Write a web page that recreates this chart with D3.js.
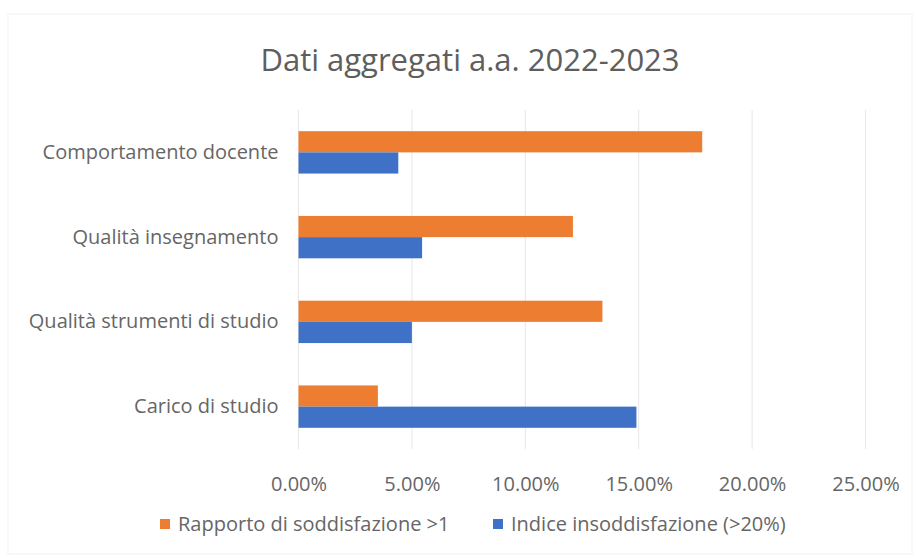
<!DOCTYPE html>
<html>
<head>
<meta charset="utf-8">
<script src="https://cdn.jsdelivr.net/npm/d3@7"></script>
<style>
  body { margin: 0; background: #fff; }
  text { font-family: "Open Sans", sans-serif; fill: #666666; }
</style>
</head>
<body>
<svg id="chart" width="916" height="558"></svg>
<script>
// Data
const categories = ["Comportamento docente", "Qualità insegnamento", "Qualità strumenti di studio", "Carico di studio"];
const seriesNames = ["Rapporto di soddisfazione >1", "Indice insoddisfazione (>20%)"];
const rapporto = [17.8, 12.1, 13.4, 3.5];
const indice = [4.4, 5.45, 5.0, 14.9];
const xTicks = [0, 5, 10, 15, 20, 25];
const colors = ["#ED7D31", "#3F72C6"];

const width = 916, height = 558;
const margin = { top: 110, right: 50, bottom: 109, left: 298.5 };

const svg = d3.select("#chart");

// faint chart frame
svg.append("rect")
  .attr("x", 8).attr("y", 14)
  .attr("width", 904).attr("height", 540)
  .attr("fill", "none")
  .attr("stroke", "#f2f2f2");

// title
svg.append("text")
  .attr("x", 470)
  .attr("y", 71)
  .attr("text-anchor", "middle")
  .style("font-size", "31px")
  .style("fill", "#5e5e5e")
  .text("Dati aggregati a.a. 2022-2023");

const x = d3.scaleLinear()
  .domain([0, 25])
  .range([margin.left, margin.left + 25 * 22.68]);

const y = d3.scaleBand()
  .domain(categories)
  .range([margin.top, height - margin.bottom])
  .paddingInner(0.5)
  .paddingOuter(0.25);

const ySub = d3.scaleBand()
  .domain([0, 1])
  .range([0, y.bandwidth()]);

// gridlines
svg.append("g")
  .selectAll("line")
  .data(xTicks)
  .join("line")
  .attr("x1", (d) => x(d))
  .attr("x2", (d) => x(d))
  .attr("y1", margin.top)
  .attr("y2", height - margin.bottom)
  .attr("stroke", "#e6e6e6")
  .attr("stroke-width", 1);

// bars
const rows = categories.map((c, i) => ({ cat: c, values: [rapporto[i], indice[i]] }));

const groups = svg.append("g")
  .selectAll("g")
  .data(rows)
  .join("g")
  .attr("transform", (d) => `translate(0, ${y(d.cat)})`);

groups.selectAll("rect")
  .data((d) => d.values.map((v, k) => ({ v, k })))
  .join("rect")
  .attr("x", x(0))
  .attr("y", (d) => ySub(d.k))
  .attr("height", ySub.bandwidth())
  .attr("width", (d) => x(d.v) - x(0))
  .attr("fill", (d) => colors[d.k]);

// y axis labels
const yAxis = svg.append("g")
  .attr("transform", `translate(${margin.left - 20}, 0)`)
  .call(d3.axisLeft(y).tickSize(0).tickPadding(0));
yAxis.select(".domain").remove();
yAxis.selectAll("text")
  .style("font-size", "20px")
  .style("font-family", "Open Sans, sans-serif")
  .style("fill", "#666666");

// x axis labels
const xAxis = svg.append("g")
  .attr("transform", `translate(0, ${height - margin.bottom + 28})`)
  .call(d3.axisBottom(x).tickValues(xTicks).tickSize(0).tickPadding(0)
    .tickFormat((d) => d.toFixed(2) + "%"));
xAxis.select(".domain").remove();
xAxis.selectAll("text")
  .style("font-size", "20px")
  .style("font-family", "Open Sans, sans-serif")
  .style("fill", "#666666");

// legend
const legendX = [160, 493];
const legend = svg.append("g")
  .selectAll("g")
  .data(seriesNames)
  .join("g")
  .attr("transform", (d, i) => `translate(${legendX[i]}, 524)`);

legend.append("rect")
  .attr("x", 0)
  .attr("y", -5)
  .attr("width", 10)
  .attr("height", 10)
  .attr("fill", (d, i) => colors[i]);

legend.append("text")
  .attr("x", 18)
  .attr("y", 0)
  .attr("dy", "0.35em")
  .style("font-size", "20px")
  .text((d) => d);
</script>
</body>
</html>
